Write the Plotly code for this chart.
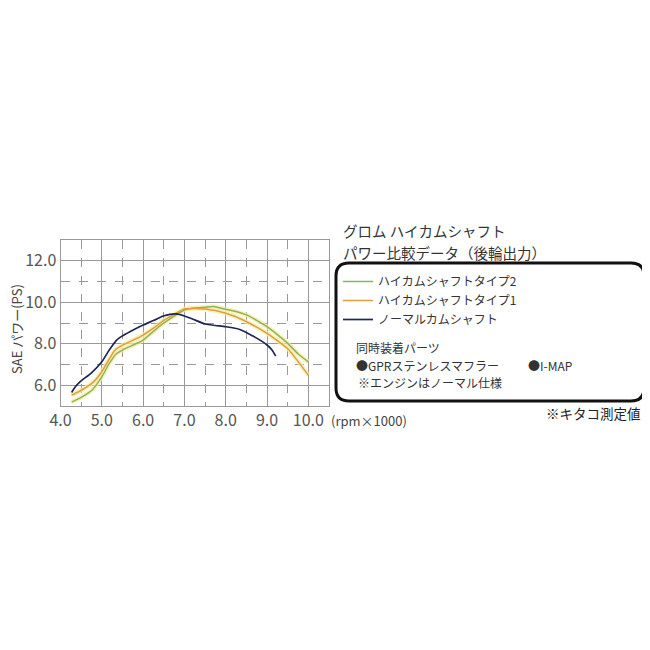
import plotly.graph_objects as go

W = H = 650

# ---- data (rpm x1000, PS) ----
series_names = ["ハイカムシャフトタイプ2", "ハイカムシャフトタイプ1", "ノーマルカムシャフト"]

type2_rpm = [4.27, 4.5, 4.76, 5.0, 5.18, 5.36, 5.55, 5.76, 6.0, 6.25, 6.49, 6.75, 7.0, 7.25, 7.5, 7.7, 8.0, 8.25, 8.5, 8.75, 9.0, 9.25, 9.5, 9.75, 10.0]
type2_ps = [5.19, 5.42, 5.76, 6.4, 7.05, 7.53, 7.75, 7.94, 8.18, 8.6, 8.98, 9.33, 9.63, 9.72, 9.76, 9.8, 9.66, 9.55, 9.39, 9.13, 8.82, 8.44, 8.02, 7.52, 7.13]

type1_rpm = [4.27, 4.45, 4.64, 4.82, 5.0, 5.16, 5.32, 5.5, 5.68, 6.0, 6.25, 6.49, 6.75, 7.0, 7.25, 7.5, 7.75, 8.0, 8.25, 8.5, 8.75, 9.0, 9.25, 9.5, 9.75, 10.0]
type1_ps = [5.52, 5.7, 5.92, 6.2, 6.65, 7.2, 7.69, 7.93, 8.1, 8.42, 8.75, 9.11, 9.42, 9.68, 9.7, 9.68, 9.6, 9.47, 9.3, 9.06, 8.8, 8.5, 8.15, 7.77, 7.15, 6.48]

normal_rpm = [4.27, 4.35, 4.47, 4.75, 5.0, 5.18, 5.36, 5.5, 5.68, 6.0, 6.25, 6.49, 6.65, 6.81, 7.0, 7.25, 7.5, 7.75, 8.0, 8.34, 8.66, 8.85, 9.0, 9.12, 9.21]
normal_ps = [5.65, 5.9, 6.16, 6.6, 7.13, 7.7, 8.18, 8.38, 8.58, 8.9, 9.12, 9.34, 9.42, 9.44, 9.34, 9.15, 8.95, 8.88, 8.82, 8.69, 8.37, 8.15, 7.94, 7.7, 7.4]

x_tick_vals = [4, 5, 6, 7, 8, 9, 10]
x_tick_text = ["4.0", "5.0", "6.0", "7.0", "8.0", "9.0", "10.0"]
y_tick_vals = [6, 8, 10, 12]
y_tick_text = ["6.0", "8.0", "10.0", "12.0"]

title_lines = ["グロム ハイカムシャフト", "パワー比較データ（後輪出力）"]
parts_heading = "同時装着パーツ"
part_1 = "●GPRステンレスマフラー"
part_2 = "●I-MAP"
engine_note = "※エンジンはノーマル仕様"
x_unit = "(rpm×1000)"
measure_note = "※キタコ測定値"
y_title = "SAE パワー(PS)"

# ---- styles ----
C_GREEN = "#8fb25a"
C_ORANGE = "#dc9f45"
C_NAVY = "#1d2852"
GLOW = "rgba(248,236,160,0.7)"
GRID = "#999999"
FONT = "Noto Sans CJK JP"
OFF = 8  # page body margin of the browser


def px(x):
    return (x - OFF) / W


def py(y):
    return 1 - (y - OFF) / H


fig = go.Figure()

# glow under the two high-cam curves
for xs, ys in [(type2_rpm, type2_ps), (type1_rpm, type1_ps)]:
    fig.add_trace(go.Scatter(x=xs, y=ys, mode="lines", showlegend=False, hoverinfo="skip",
                             line=dict(color=GLOW, width=4.5, shape="spline", smoothing=0.6)))

fig.add_trace(go.Scatter(x=type2_rpm, y=type2_ps, mode="lines", name=series_names[0],
                         line=dict(color=C_GREEN, width=1.5, shape="spline", smoothing=0.6)))
fig.add_trace(go.Scatter(x=type1_rpm, y=type1_ps, mode="lines", name=series_names[1],
                         line=dict(color=C_ORANGE, width=1.5, shape="spline", smoothing=0.6)))
fig.add_trace(go.Scatter(x=normal_rpm, y=normal_ps, mode="lines", name=series_names[2],
                         line=dict(color=C_NAVY, width=1.7, shape="spline", smoothing=0.6)))

# plot area pixels (page coordinates)
L, R, T, B = 60.5, 329, 240, 406

fig.update_layout(
    width=W, height=H,
    margin=dict(l=0, r=0, t=0, b=0, autoexpand=False),
    paper_bgcolor="white", plot_bgcolor="white",
    font=dict(family=FONT, color="#444"),
    xaxis=dict(domain=[px(L), px(R)], range=[4, 10.5], tickvals=x_tick_vals, ticktext=x_tick_text,
               showgrid=True, gridcolor=GRID, gridwidth=1, zeroline=False, automargin=False,
               showline=True, linecolor=GRID, linewidth=1, mirror=True,
               ticks="", tickfont=dict(size=16, color="#555"),
               minor=dict(tick0=4.5, dtick=1, showgrid=True, gridcolor=GRID, griddash="dash", gridwidth=1),
               fixedrange=True),
    yaxis=dict(domain=[py(B), py(T)], range=[5, 13], tickvals=y_tick_vals, ticktext=y_tick_text,
               showgrid=True, gridcolor=GRID, gridwidth=1, zeroline=False, automargin=False,
               showline=True, linecolor=GRID, linewidth=1, mirror=True,
               ticks="", tickfont=dict(size=16, color="#555"),
               minor=dict(tick0=5, dtick=2, showgrid=True, gridcolor=GRID, griddash="dash", gridwidth=1),
               fixedrange=True),
    legend=dict(x=px(338), y=py(267), xanchor="left", yanchor="top", bgcolor="rgba(0,0,0,0)",
                font=dict(size=12, color="#333", family=FONT), tracegroupgap=0, itemwidth=30),
    showlegend=True,
)

# rounded legend frame
x0, x1, y0, y1, r = 336, 644, 263, 401, 13
path = (f"M {px(x0 + r)} {py(y0)} L {px(x1 - r)} {py(y0)} "
        f"Q {px(x1)} {py(y0)} {px(x1)} {py(y0 + r)} L {px(x1)} {py(y1 - r)} "
        f"Q {px(x1)} {py(y1)} {px(x1 - r)} {py(y1)} L {px(x0 + r)} {py(y1)} "
        f"Q {px(x0)} {py(y1)} {px(x0)} {py(y1 - r)} L {px(x0)} {py(y0 + r)} "
        f"Q {px(x0)} {py(y0)} {px(x0 + r)} {py(y0)} Z")
fig.add_shape(type="path", path=path, xref="paper", yref="paper", line=dict(color="#111", width=3))


def note(text, x, y, size, anchor="left", color="#333", angle=0):
    fig.add_annotation(text=text, x=px(x), y=py(y), xref="paper", yref="paper", showarrow=False,
                       xanchor=anchor, yanchor="middle", textangle=angle,
                       font=dict(size=size, color=color, family=FONT))


note(title_lines[0], 341, 230, 14.5)
note(title_lines[1], 341, 252, 14.5)
note(parts_heading, 354, 347, 12)
note(part_1, 354, 365, 12)
note(part_2, 526, 365, 12)
note(engine_note, 356, 383, 12)
note(x_unit, 329, 420, 13, color="#444")
note(measure_note, 643, 413, 13.5, anchor="right", color="#222")
note(y_title, 16, 329, 13, anchor="center", color="#444", angle=-90)

fig.write_html("out.html")
